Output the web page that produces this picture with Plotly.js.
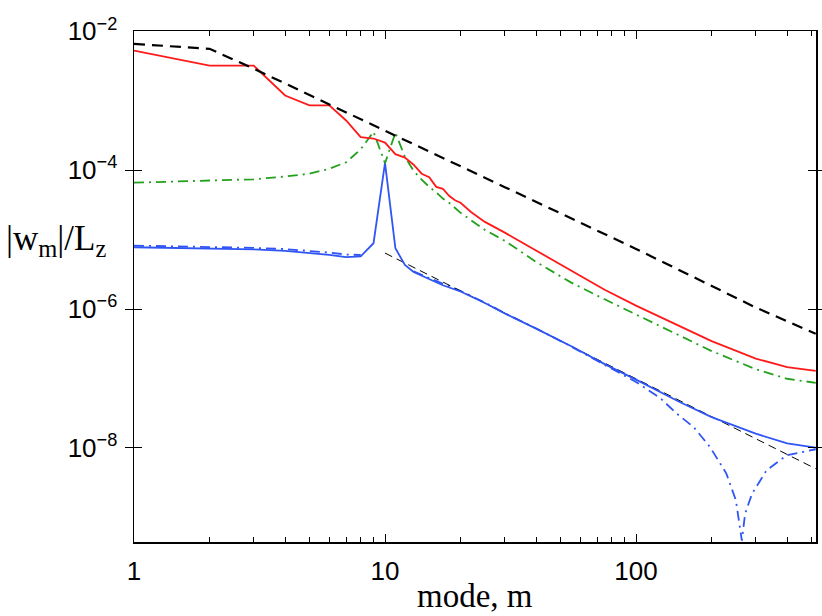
<!DOCTYPE html>
<html>
<head>
<meta charset="utf-8">
<script src="https://cdn.plot.ly/plotly-3.0.1.min.js"></script>
<style>
  html, body { margin: 0; padding: 0; background: #fff; }
</style>
</head>
<body>
<div id="chart" style="width:822px;height:616px;"></div>
<script>
// mode numbers and |w_m|/L_z values
var mBound = [1, 2, 3, 5, 10, 30, 100, 300, 520];
var wBound = [6.6e-3, 5.6e-3, 2.9e-3, 1.2e-3, 3.7e-4, 5.7e-5, 7.35e-6, 1.05e-6, 4.4e-7];

var mRed = [1, 2, 3, 4, 5, 6, 7, 8, 9, 10, 11, 12, 13, 14, 15, 16, 17, 18, 19, 20,
  22, 25, 30, 40, 55, 75, 100, 150, 200, 300, 400, 520];
var wRed = [5.28e-3, 3.2e-3, 3.2e-3, 1.19e-3, 8.6e-4, 8.6e-4, 5.2e-4, 3.0e-4, 2.86e-4, 2.5e-4,
  1.7e-4, 1.52e-4, 1.2e-4, 8.9e-5, 7.9e-5, 5.75e-5, 5.4e-5, 4.27e-5, 3.68e-5, 3.39e-5,
  2.5e-5, 1.8e-5, 1.26e-5, 6.98e-6, 3.6e-6, 1.9e-6, 1.12e-6, 5.7e-7, 3.45e-7, 1.93e-7, 1.46e-7, 1.29e-7];

var mGreen = [1, 2, 3, 4, 5, 6, 7, 8, 9, 10, 11, 12, 13, 14, 15, 16, 17, 18,
  20, 25, 30, 40, 55, 75, 100, 150, 200, 300, 400, 520];
var wGreen = [6.6e-5, 7.1e-5, 7.4e-5, 8.1e-5, 8.9e-5, 1.05e-4, 1.3e-4, 2.0e-4, 3.57e-4, 1.26e-4,
  3.47e-4, 1.56e-4, 9.8e-5, 7.3e-5, 5.75e-5, 4.8e-5, 3.9e-5, 3.4e-5,
  2.43e-5, 1.38e-5, 9.6e-6, 4.77e-6, 2.42e-6, 1.38e-6, 8.4e-7, 4.07e-7, 2.48e-7, 1.36e-7, 9.9e-8, 8.65e-8];

var mBlue = [1, 2, 3, 4, 5, 6, 7, 8, 9, 10, 11, 12, 13, 14, 15, 17,
  20, 25, 30, 40, 55, 75, 100, 150, 200, 300, 400, 520];
var wBlue = [7.76e-6, 7.5e-6, 7.22e-6, 6.87e-6, 6.45e-6, 6.03e-6, 5.6e-6, 5.75e-6, 8.87e-6, 1.27e-4,
  7.5e-6, 4.31e-6, 3.42e-6, 3.04e-6, 2.75e-6, 2.2e-6,
  1.79e-6, 1.22e-6, 8.6e-7, 5.23e-7, 2.93e-7, 1.61e-7, 9.6e-8, 4.55e-8, 2.77e-8, 1.6e-8, 1.16e-8, 1.01e-8];

var mBlueDD = [1, 2, 3, 4, 5, 6, 7, 8, 9, 12, 13, 14, 15, 20, 25, 30, 40, 55, 75, 100,
  125, 145, 170, 197, 215, 229, 250, 261, 264, 272, 290, 331, 398, 520];
var wBlueDD = [8.2e-6, 7.9e-6, 7.6e-6, 7.3e-6, 6.9e-6, 6.5e-6, 6.1e-6, 6.0e-6, null, null, 3.5e-6, 3.1e-6, 2.8e-6,
  1.82e-6, 1.24e-6, 8.7e-7, 5.25e-7, 2.9e-7, 1.55e-7, 8.9e-8,
  5.2e-8, 3.13e-8, 1.98e-8, 1.03e-8, 6.2e-9, 4.26e-9, 1.75e-9, 5.8e-10, 4.6e-10, 1.13e-9, 2.19e-9, 4.75e-9, 7.8e-9, 9.55e-9];

var mAsym = [10, 100, 520];
var wAsym = [6.4e-6, 1.0e-7, 5.0e-9];

var xTicks = [1, 10, 100];
var xTickText = ['1', '10', '100'];
var xMinor = [2, 3, 4, 5, 6, 7, 8, 9, 20, 30, 40, 50, 60, 70, 80, 90, 200, 300, 400, 500];
var yTicks = [1e-8, 1e-6, 1e-4, 1e-2];
var yTickText = ['10<sup>\u22128</sup>', '10<sup>\u22126</sup>', '10<sup>\u22124</sup>', '10<sup>\u22122</sup>'];

var blue = '#2f55f4';
var green = '#23a01c';

var traces = [
  {x: mBlueDD, y: wBlueDD, mode: 'lines', connectgaps: false,
   line: {color: blue, width: 1.8, dash: '10px,5px,2px,5px'}},
  {x: mAsym, y: wAsym, mode: 'lines', line: {color: 'black', width: 1, dash: '8px,5px'}},
  {x: mBlue, y: wBlue, mode: 'lines', line: {color: blue, width: 1.8}},
  {x: mGreen, y: wGreen, mode: 'lines', line: {color: green, width: 1.8, dash: '10px,5px,2px,5px'}},
  {x: mRed, y: wRed, mode: 'lines', line: {color: '#ff1a1a', width: 1.8}},
  {x: mBound, y: wBound, mode: 'lines', line: {color: 'black', width: 2.2, dash: '11px,7px'}},
  // empty trace so the top tick axis gets drawn
  {x: [], y: [], xaxis: 'x2', mode: 'lines', hoverinfo: 'skip'}
];

var tickFont = {family: 'Liberation Sans, Arial, sans-serif', size: 26, color: 'black'};

var layout = {
  width: 822,
  height: 616,
  showlegend: false,
  paper_bgcolor: 'white',
  plot_bgcolor: 'white',
  margin: {l: 134, r: 6, t: 31, b: 74},
  xaxis: {
    type: 'log', range: [0, 2.717],
    tickmode: 'array', tickvals: xTicks, ticktext: xTickText,
    ticks: 'inside', ticklen: 8, tickwidth: 1, tickcolor: 'black',
    minor: {tickmode: 'array', tickvals: xMinor, ticks: 'inside', ticklen: 5, tickwidth: 1, tickcolor: 'black', showgrid: false},
    showline: true, linecolor: 'black', linewidth: 1.5, mirror: 'allticks',
    showgrid: false, zeroline: false, tickfont: tickFont, ticklabelstandoff: 5
  },
  xaxis2: {
    type: 'log', range: [0, 2.717], overlaying: 'x', anchor: 'y', side: 'top',
    tickmode: 'array', tickvals: xMinor, showticklabels: false,
    ticks: 'inside', ticklen: 5, tickwidth: 1, tickcolor: 'black',
    showline: false, showgrid: false, zeroline: false
  },
  yaxis: {
    type: 'log', range: [-9.356, -1.995],
    tickmode: 'array', tickvals: yTicks, ticktext: yTickText,
    ticks: 'inside', ticklen: 8, tickwidth: 1, tickcolor: 'black',
    showline: true, linecolor: 'black', linewidth: 1.5, mirror: 'allticks',
    showgrid: false, zeroline: false, tickfont: tickFont, ticklabelstandoff: 10
  },
  annotations: [
    {text: '|w<sub>m</sub>|/L<sub>z</sub>', xref: 'paper', yref: 'paper',
     x: -0.115, y: 0.59, xanchor: 'center', yanchor: 'middle', showarrow: false,
     font: {family: 'Liberation Serif, Times New Roman, serif', size: 35, color: 'black'}},
    {text: 'mode, m', xref: 'paper', yref: 'paper',
     x: 0.5, y: -0.105, xanchor: 'center', yanchor: 'middle', showarrow: false,
     font: {family: 'Liberation Serif, Times New Roman, serif', size: 33, color: 'black'}}
  ]
};

Plotly.newPlot('chart', traces, layout, {displayModeBar: false, staticPlot: true});
</script>
</body>
</html>
